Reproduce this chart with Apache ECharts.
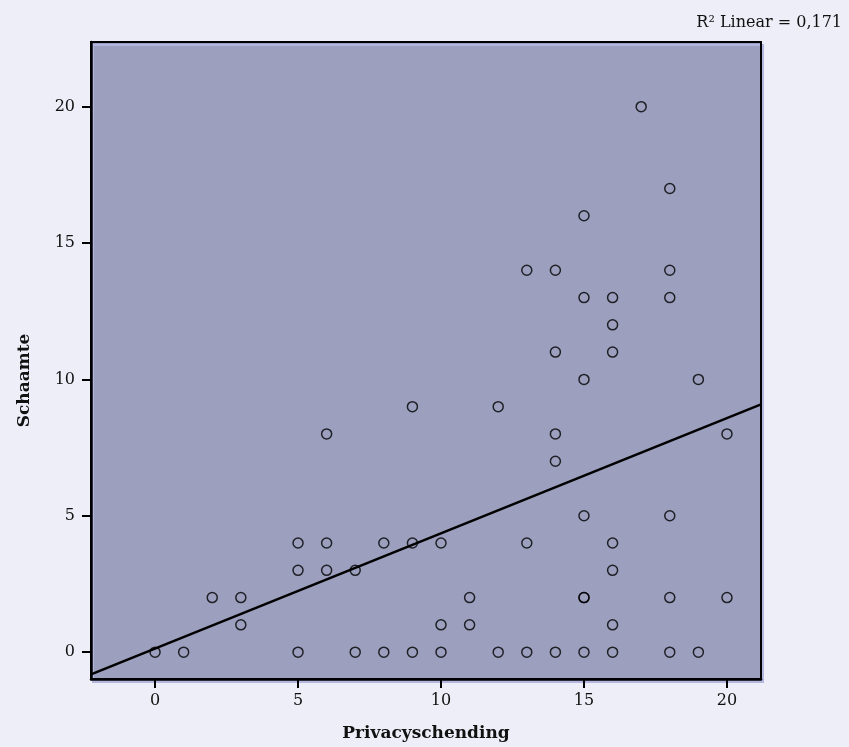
<!DOCTYPE html>
<html>
<head>
<meta charset="utf-8">
<script src="https://cdn.jsdelivr.net/npm/echarts@6/dist/echarts.min.js"></script>
<style>
html,body{margin:0;padding:0;background:#eeeef8;}
#chart{width:849px;height:747px;}
</style>
</head>
<body>
<div id="chart"></div>
<script>
// Privacyschending (x) and Schaamte (y) values
const privacyschending = [0,1,2,3,3,5,5,5,6,6,6,7,7,8,8,9,9,9,10,10,10,11,11,12,12,13,13,13,14,14,14,14,14,15,15,15,15,15,15,15,16,16,16,16,16,16,16,17,18,18,18,18,18,18,19,19,20,20];
const schaamte        = [0,0,2,2,1,4,3,0,8,4,3,3,0,4,0,9,4,0,4,1,0,2,1,9,0,14,4,0,14,11,8,7,0,16,13,10,5,2,2,0,13,12,11,4,3,1,0,20,17,14,13,5,2,0,10,0,8,2];
const xTicks = [0,5,10,15,20];
const yTicks = [0,5,10,15,20];
const xRange = [-2.24, 21.19];
const yRange = [-0.985, 22.37];
const r2Label = 'R\u00B2 Linear = 0,171';

const points = privacyschending.map((x,i)=>[x, schaamte[i]]);

// least squares fit
const n = points.length;
const mx = privacyschending.reduce((a,b)=>a+b,0)/n;
const my = schaamte.reduce((a,b)=>a+b,0)/n;
let sxy=0, sxx=0;
for (let i=0;i<n;i++){ sxy += (privacyschending[i]-mx)*(schaamte[i]-my); sxx += (privacyschending[i]-mx)**2; }
const slope = sxy/sxx, intercept = my - slope*mx;
const fitLine = [[xRange[0], intercept + slope*xRange[0]], [xRange[1], intercept + slope*xRange[1]]];

const font = 'DejaVu Serif';
const chart = echarts.init(document.getElementById('chart'));
chart.setOption({
  backgroundColor: '#eeeef8',
  animation: false,
  title: {
    text: r2Label, right: 2, top: 10,
    textStyle: {fontFamily: font, fontWeight: 'normal', fontSize: 16, color: '#111'}
  },
  grid: {
    left: 91, right: 88, top: 42, bottom: 65,
    show: true, backgroundColor: '#9c9fbe', borderColor: '#000', borderWidth: 2,
    shadowColor: '#b3b7e0', shadowOffsetX: 2, shadowOffsetY: 3, shadowBlur: 0
  },
  xAxis: {
    type: 'value', min: xRange[0], max: xRange[1],
    name: 'Privacyschending', nameLocation: 'middle', nameGap: 46,
    nameTextStyle: {fontFamily: font, fontWeight: 'bold', fontSize: 17, color: '#111'},
    axisLine: {show: true, onZero: false, lineStyle: {color: '#000', width: 2.5}},
    axisTick: {show: true, length: 9, customValues: xTicks, lineStyle: {color: '#000', width: 2}},
    axisLabel: {customValues: xTicks, margin: 14, fontFamily: font, fontSize: 16, color: '#111'},
    splitLine: {show: false}
  },
  yAxis: {
    type: 'value', min: yRange[0], max: yRange[1],
    name: 'Schaamte', nameLocation: 'middle', nameGap: 58, nameRotate: 90,
    nameTextStyle: {fontFamily: font, fontWeight: 'bold', fontSize: 17, color: '#111', padding: [0,40,0,0]},
    axisLine: {show: true, onZero: false, lineStyle: {color: '#000', width: 2.5}},
    axisTick: {show: true, length: 9, customValues: yTicks, lineStyle: {color: '#000', width: 2}},
    axisLabel: {customValues: yTicks, margin: 16, fontFamily: font, fontSize: 16, color: '#111'},
    splitLine: {show: false}
  },
  series: [
    {
      type: 'scatter', data: points, symbol: 'circle', symbolSize: 10,
      itemStyle: {color: 'rgba(0,0,0,0)', borderColor: '#000', borderWidth: 1.5},
      z: 3
    },
    {
      type: 'line', data: fitLine, symbol: 'none', clip: true,
      lineStyle: {color: '#000', width: 2.5}, z: 2
    }
  ]
});
</script>
</body>
</html>
